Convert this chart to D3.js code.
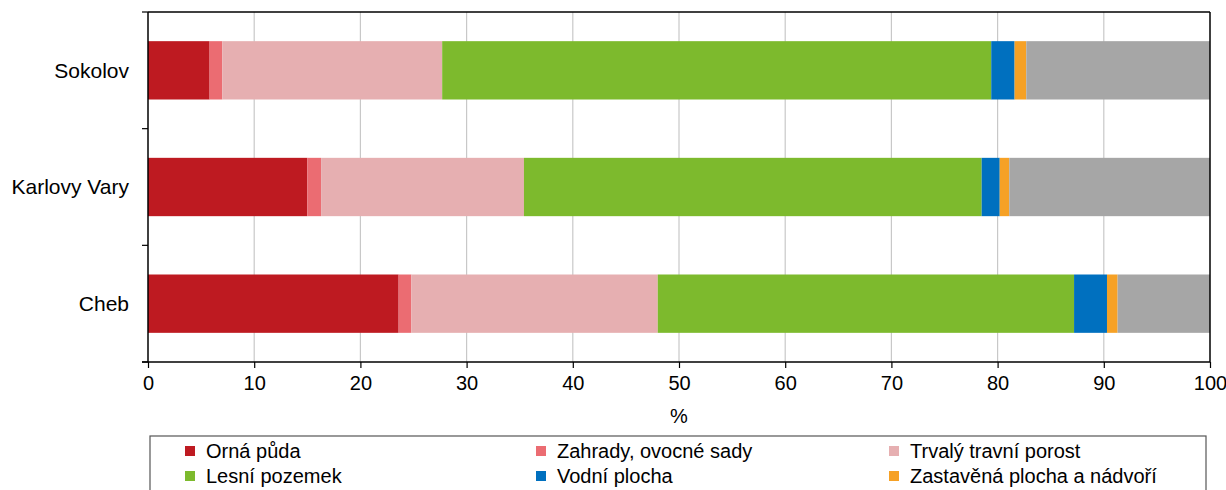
<!DOCTYPE html>
<html>
<head>
<meta charset="utf-8">
<script src="https://cdn.jsdelivr.net/npm/d3@7"></script>
<style>
  body { margin: 0; background: #fff; }
  svg text { font-family: "Liberation Sans", Arial, sans-serif; fill: #000; }
</style>
</head>
<body>
<div id="chart"></div>
<script>
// okresy, shora dolu
var districts = ["Sokolov", "Karlovy Vary", "Cheb"];
var seriesNames = ["Orná půda", "Zahrady, ovocné sady", "Trvalý travní porost",
    "Lesní pozemek", "Vodní plocha", "Zastavěná plocha a nádvoří", "Ostatní plocha"];
var seriesColors = ["#BE1A21", "#EB6C72", "#E6AFB1", "#7DBA2D", "#0070BF", "#F6A125", "#A6A6A6"];

// podil v % pro kazdy okres (Sokolov, Karlovy Vary, Cheb)
var ornaPuda   = [5.8, 15.0, 23.6];
var zahrady    = [1.2, 1.3, 1.2];
var trvalyPor  = [20.7, 19.1, 23.2];
var lesni      = [51.7, 43.1, 39.2];
var vodni      = [2.2, 1.7, 3.1];
var zastavena  = [1.1, 0.9, 1.0];
var ostatni    = [17.3, 18.9, 8.7];
var xTicks = [0, 10, 20, 30, 40, 50, 60, 70, 80, 90, 100];

var seriesValues = [ornaPuda, zahrady, trvalyPor, lesni, vodni, zastavena, ostatni];

var width = 1226, height = 490;
var margin = {top: 12, right: 16, bottom: 128, left: 148};
var plotW = width - margin.left - margin.right;
var plotH = height - margin.top - margin.bottom;

var svg = d3.select("#chart").append("svg")
    .attr("width", width)
    .attr("height", height);

var g = svg.append("g").attr("transform", "translate(" + margin.left + "," + margin.top + ")");

var x = d3.scaleLinear().domain([0, 100]).range([0, plotW]);
var y = d3.scaleBand().domain(districts).range([0, plotH]).paddingInner(0.5).paddingOuter(0.25);

// mrizka
g.selectAll(".grid").data(xTicks.slice(1, -1)).enter().append("line")
    .attr("x1", d => x(d)).attr("x2", d => x(d))
    .attr("y1", 0).attr("y2", plotH)
    .attr("stroke", "#c8c8c8").attr("stroke-width", 1.2);

// stacked data
var rows = districts.map(function(name, i){
    var row = {okres: name};
    seriesNames.forEach(function(s, j){ row[s] = seriesValues[j][i]; });
    return row;
});
var stack = d3.stack().keys(seriesNames)(rows);

g.selectAll(".serie").data(stack).enter().append("g")
    .attr("fill", (d, i) => seriesColors[i])
    .selectAll("rect").data(d => d).enter().append("rect")
    .attr("x", d => x(d[0]))
    .attr("y", d => y(d.data.okres))
    .attr("width", d => x(d[1]) - x(d[0]))
    .attr("height", y.bandwidth());

// ramecek nahore a vpravo
g.append("line").attr("x1", 0).attr("x2", plotW).attr("y1", 0).attr("y2", 0)
    .attr("stroke", "#000").attr("stroke-width", 1.5);
g.append("line").attr("x1", plotW).attr("x2", plotW).attr("y1", 0).attr("y2", plotH)
    .attr("stroke", "#000").attr("stroke-width", 1.5);

// osa x
var xAxis = g.append("g").attr("transform", "translate(0," + plotH + ")")
    .call(d3.axisBottom(x).tickValues(xTicks).tickSize(6).tickPadding(8));
xAxis.select(".domain").attr("d", "M-6,0H" + plotW).attr("stroke-width", 1.5);
xAxis.selectAll(".tick line").attr("stroke-width", 1.2);
xAxis.selectAll("text").style("font-size", "20px");

// osa y - carky na hranicich kategorii
var yAxis = g.append("g");
yAxis.append("line").attr("x1", 0).attr("x2", 0).attr("y1", 0).attr("y2", plotH)
    .attr("stroke", "#000").attr("stroke-width", 1.5);
var bounds = d3.range(districts.length + 1).map(i => i * plotH / districts.length);
yAxis.selectAll(".ytick").data(bounds).enter().append("line")
    .attr("x1", -6).attr("x2", 0).attr("y1", d => d).attr("y2", d => d)
    .attr("stroke", "#000").attr("stroke-width", 1.2);
yAxis.selectAll(".ylab").data(districts).enter().append("text")
    .attr("x", -19)
    .attr("y", d => y(d) + y.bandwidth() / 2)
    .attr("dy", "0.35em")
    .attr("text-anchor", "end")
    .style("font-size", "21px")
    .text(d => d);

// popis osy x
svg.append("text").attr("x", margin.left + plotW / 2).attr("y", 423)
    .attr("text-anchor", "middle").style("font-size", "20px").text("%");

// legenda - treti radek je v originalu oriznuty, kreslime jen prvnich 6 polozek
var legend = svg.append("g");
legend.append("rect").attr("x", 150).attr("y", 436).attr("width", 1056).attr("height", 90)
    .attr("fill", "none").attr("stroke", "#555").attr("stroke-width", 1.2);
var colX = [185, 536, 889];
var rowY = [451, 476];
var items = legend.selectAll(".item").data(seriesNames.slice(0, 6)).enter().append("g")
    .attr("transform", (d, i) => "translate(" + colX[i % 3] + "," + rowY[Math.floor(i / 3)] + ")");
items.append("rect").attr("x", 0).attr("y", -5).attr("width", 10).attr("height", 10)
    .attr("fill", (d, i) => seriesColors[i]);
items.append("text").attr("x", 21).attr("dy", "0.33em").style("font-size", "20px").text(d => d);
</script>
</body>
</html>
